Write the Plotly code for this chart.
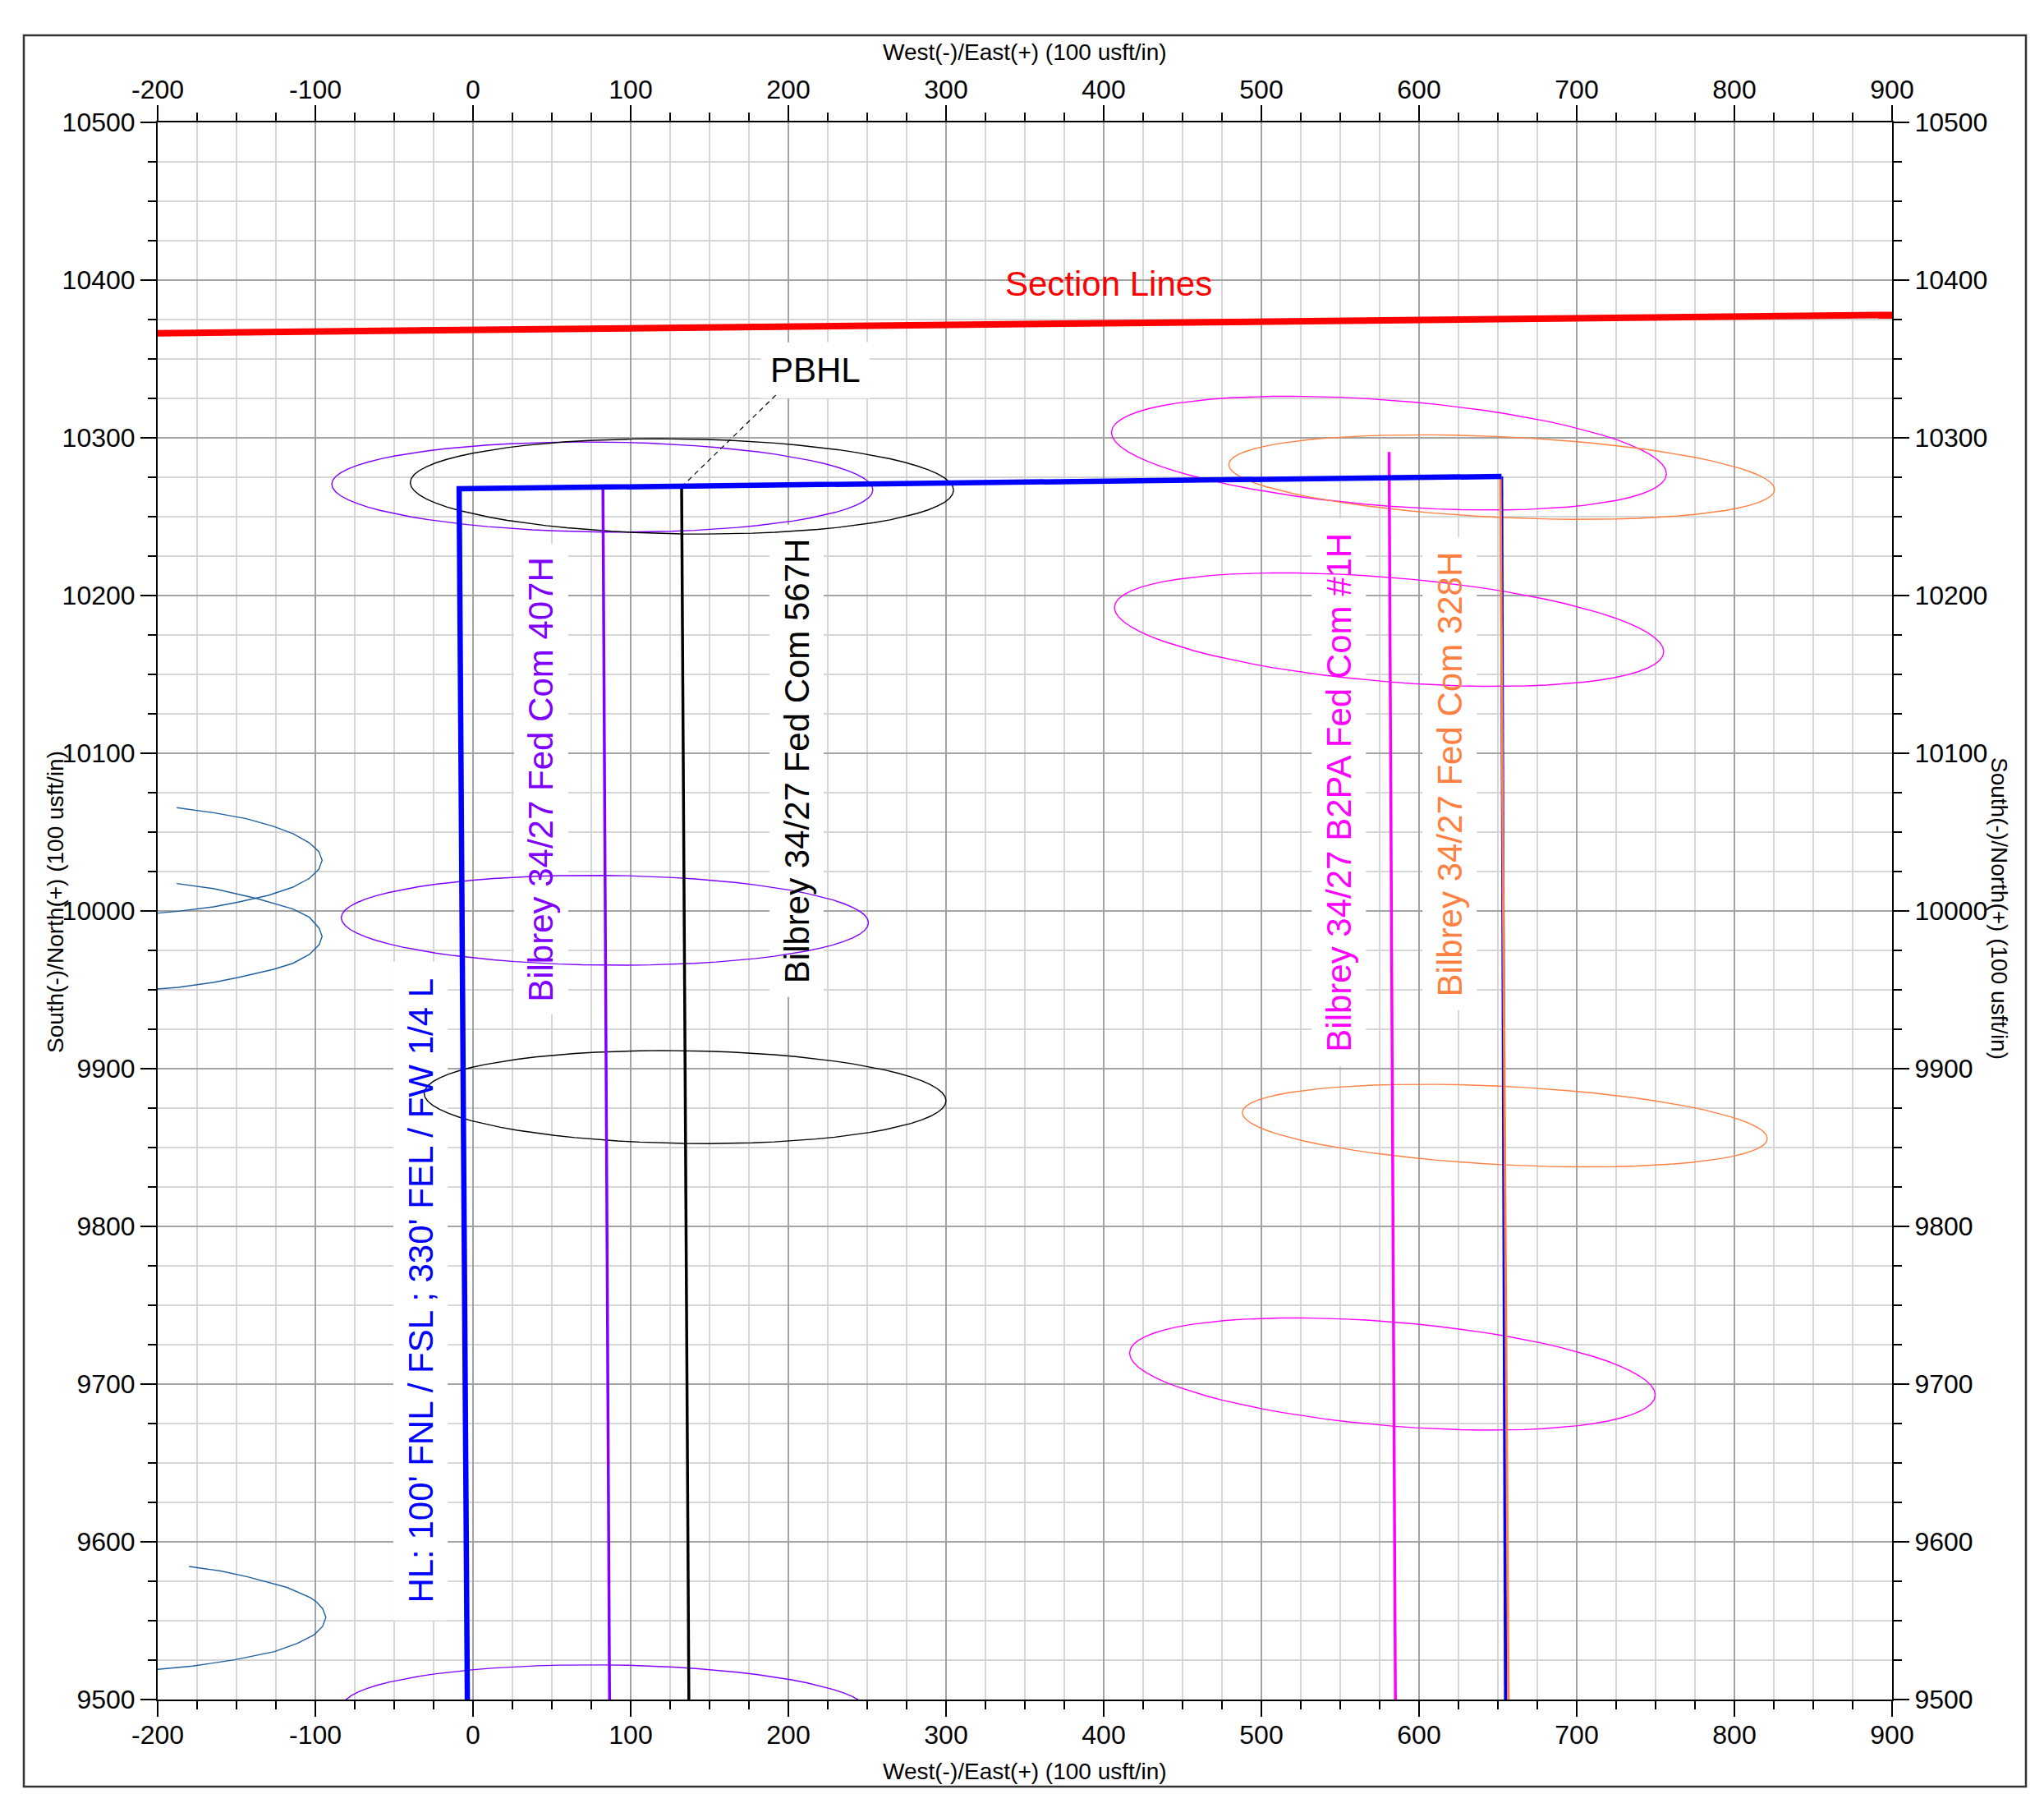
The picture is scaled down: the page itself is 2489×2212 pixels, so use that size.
import numpy as np
import plotly.graph_objects as go

FONT = "Liberation Sans, Arial, Helvetica, sans-serif"

# ---------------- data ----------------
x_range = [-200, 900]
y_range = [9500, 10500]
x_tick_vals = list(range(-200, 901, 100))
y_tick_vals = list(range(9500, 10501, 100))
x_tick_text = [str(v) for v in x_tick_vals]
y_tick_text = [str(v) for v in y_tick_vals]

# Section line
section_x = [-200, 900]
section_y = [10366.3, 10377.9]

# Subject well (blue): lateral (thick) and return leg (thin)
hl_main_x = [-3.6, -8.8, 652.3]
hl_main_y = [9500, 10267.7, 10275.5]
hl_leg_x = [652.3, 654.9]
hl_leg_y = [10275.5, 9500]

# Offset wells
w407_x = [82.4, 86.6]
w407_y = [10268.9, 9500]
w567_x = [132.3, 136.9]
w567_y = [10268.9, 9500]
w1h_x = [581.0, 585.0]
w1h_y = [10291.0, 9500]
w328_x = [651.6, 656.7]
w328_y = [10275.5, 9500]

# PBHL leader line
pbhl_x = [132.3, 192.5]
pbhl_y = [10268.9, 10327.5]

# Uncertainty ellipses: centre x, centre y, half-width, half-height, y-offset of right tip
e407_cx = [82.0, 83.6, 84.0]
e407_cy = [10268.8, 9994.1, 9493.5]
e407_a = [171.6, 167.2, 167.0]
e407_h = [28.6, 28.5, 28.5]
e407_c = [-1.8, -1.6, -1.6]

e567_cx = [132.5, 134.5]
e567_cy = [10269.2, 9882.0]
e567_a = [172.3, 165.5]
e567_h = [30.2, 29.5]
e567_c = [-2.4, -2.3]

e1h_cx = [580.9, 581.0, 583.1]
e1h_cy = [10290.3, 10178.4, 9706.4]
e1h_a = [176.0, 174.2, 166.7]
e1h_h = [36.1, 36.0, 35.6]
e1h_c = [-13.1, -14.0, -13.3]

e328_cx = [652.4, 654.4]
e328_cy = [10275.1, 9863.9]
e328_a = [173.1, 166.5]
e328_h = [26.8, 26.2]
e328_c = [-7.9, -8.2]

# Partial ellipses of the far-west offset well (dark blue)
arc1_x = [-187.9, -164.6, -143.8, -126.4, -114.2, -103.8, -97.8, -95.7,
          -97.8, -103.8, -114.2, -129.8, -149.0, -164.6, -187.1, -200.2]
arc1_y = [10065.5, 10062.3, 10058.5, 10053.6, 10049.0, 10043.2, 10037.7, 10032.1,
          10026.4, 10020.7, 10015.1, 10009.9, 10005.6, 10002.6, 9999.8, 9998.6]
arc2_x = [-187.9, -164.6, -136.8, -114.2, -103.8, -97.6, -95.7, -97.6,
          -103.8, -114.2, -126.4, -149.0, -164.6, -187.1, -200.2]
arc2_y = [10017.4, 10014.2, 10007.8, 10001.2, 9996.0, 9989.1, 9983.9, 9978.6,
          9972.4, 9966.8, 9963.0, 9957.8, 9954.7, 9951.6, 9950.5]
arc3_x = [-180.1, -160.0, -142.9, -118.0, -103.0, -99.4, -95.4, -93.3,
          -95.4, -100.7, -111.4, -125.9, -151.2, -177.8, -200.1]
arc3_y = [9584.4, 9581.5, 9577.8, 9571.1, 9564.5, 9562.0, 9557.7, 9552.1,
          9546.4, 9541.1, 9535.6, 9530.4, 9525.2, 9521.2, 9519.1]

# Labels
label_text = ["Bilbrey 34/27 Fed Com 407H", "Bilbrey 34/27 Fed Com 567H",
              "Bilbrey 34/27 B2PA Fed Com #1H", "Bilbrey 34/27 Fed Com 328H",
              "HL: 100' FNL / FSL ; 330' FEL / FW 1/4 L"]
label_x = [43.2, 205.2, 549.1, 619.4, -33.3]
label_y = [10083.4, 10095.2, 10075.3, 10086.9, 9759.1]

# ---------------- styling ----------------
C_BLUE = "#0000FF"
C_PURPLE = "#8000FF"
C_BLACK = "#000000"
C_MAGENTA = "#FF00FF"
C_ORANGE = "#FF8040"
C_RED = "#FF0000"
C_DKBLUE = "#1F5F9F"
label_colors = [C_PURPLE, C_BLACK, C_MAGENTA, C_ORANGE, C_BLUE]
label_len_px = [548, 551, 643, 551, 778]

# page body has an 8px default margin: figure is shrunk by that amount
W, H = 2481, 2204
PL, PT, PR, PB = 184, 141, 185, 143
PW, PH = W - PL - PR, H - PT - PB


def px_to_paper_x(px):
    return (px - 8 - PL) / PW


def px_to_paper_y(py):
    return (H - PB - (py - 8)) / PH


fig = go.Figure()


def line(x, y, color, width, dash=None):
    fig.add_trace(go.Scatter(x=x, y=y, mode="lines", showlegend=False, hoverinfo="skip",
                             line=dict(color=color, width=width, dash=dash)))


def ellipses(cx, cy, a, h, c, color, width=1.4):
    t = np.linspace(0, 2 * np.pi, 73)
    for i in range(len(cx)):
        b = np.sqrt(h[i] ** 2 - c[i] ** 2)
        ex = cx[i] + a[i] * np.cos(t)
        ey = cy[i] + b * np.sin(t) + c[i] * np.cos(t)
        line(ex, ey, color, width)


ellipses(e407_cx, e407_cy, e407_a, e407_h, e407_c, C_PURPLE)
ellipses(e567_cx, e567_cy, e567_a, e567_h, e567_c, C_BLACK)
ellipses(e1h_cx, e1h_cy, e1h_a, e1h_h, e1h_c, C_MAGENTA)
ellipses(e328_cx, e328_cy, e328_a, e328_h, e328_c, C_ORANGE)
for ax_, ay_ in [(arc1_x, arc1_y), (arc2_x, arc2_y), (arc3_x, arc3_y)]:
    line(ax_, ay_, C_DKBLUE, 1.4)

line(section_x, section_y, C_RED, 8)
line(pbhl_x, pbhl_y, C_BLACK, 1.2, dash="6px,5px")
line(w407_x, w407_y, C_PURPLE, 3.5)
line(w567_x, w567_y, C_BLACK, 3.5)
line(w1h_x, w1h_y, C_MAGENTA, 3.5)
line(hl_leg_x, hl_leg_y, C_BLUE, 4)
line(w328_x, w328_y, C_ORANGE, 3)
line(hl_main_x, hl_main_y, C_BLUE, 6.5)

# dummy trace for the top/right axes
fig.add_trace(go.Scatter(x=x_range, y=y_range, xaxis="x2", yaxis="y2", mode="markers",
                         marker=dict(opacity=0), showlegend=False, hoverinfo="skip"))

annotations = []
shapes = []
for txt, x, y, col, L in zip(label_text, label_x, label_y, label_colors, label_len_px):
    annotations.append(dict(x=x, y=y, xref="x", yref="y", text=txt, showarrow=False,
                            textangle=-90, font=dict(family=FONT, size=42, color=col),
                            xanchor="center", yanchor="middle"))
    shapes.append(dict(type="rect", xref="x", yref="y", xsizemode="pixel", ysizemode="pixel",
                       xanchor=x, yanchor=y, x0=-33, x1=33, y0=-(L / 2 + 12), y1=L / 2 + 12,
                       fillcolor="white", line=dict(width=0), layer="between"))

annotations.append(dict(x=217.1, y=10342.8, xref="x", yref="y", text="PBHL", showarrow=False,
                        font=dict(family=FONT, size=42, color="black"),
                        xanchor="center", yanchor="middle"))
shapes.append(dict(type="rect", xref="x", yref="y", xsizemode="pixel", ysizemode="pixel",
                   xanchor=217.1, yanchor=10342.8, x0=-66, x1=66, y0=-34, y1=34,
                   fillcolor="white", line=dict(width=0), layer="between"))
annotations.append(dict(x=403.3, y=10397.5, xref="x", yref="y", text="Section Lines",
                        showarrow=False, font=dict(family=FONT, size=42, color=C_RED),
                        xanchor="center", yanchor="middle"))

title_font = dict(family=FONT, size=28, color="black")
annotations += [
    dict(x=0.5, y=px_to_paper_y(63), xref="paper", yref="paper",
         text="West(-)/East(+) (100 usft/in)",
         showarrow=False, font=title_font, xanchor="center", yanchor="middle"),
    dict(x=0.5, y=px_to_paper_y(2156), xref="paper", yref="paper",
         text="West(-)/East(+) (100 usft/in)",
         showarrow=False, font=title_font, xanchor="center", yanchor="middle"),
    dict(x=px_to_paper_x(67), y=px_to_paper_y(1098), xref="paper", yref="paper",
         text="South(-)/North(+) (100 usft/in)", textangle=-90,
         showarrow=False, font=title_font, xanchor="center", yanchor="middle"),
    dict(x=px_to_paper_x(2435), y=px_to_paper_y(1106), xref="paper", yref="paper",
         text="South(-)/North(+) (100 usft/in)", textangle=90,
         showarrow=False, font=title_font, xanchor="center", yanchor="middle"),
]

# outer frame
shapes.append(dict(type="rect", xref="paper", yref="paper",
                   x0=px_to_paper_x(29), x1=px_to_paper_x(2467),
                   y0=px_to_paper_y(2175), y1=px_to_paper_y(43),
                   line=dict(color="#333333", width=2.5), fillcolor="rgba(0,0,0,0)", layer="below"))

tickfont = dict(family=FONT, size=32, color="black")
common = dict(showline=True, linecolor="black", linewidth=2, ticks="outside", ticklen=19,
              tickwidth=1.5, tickcolor="black", tickfont=tickfont, zeroline=False,
              autorange=False, mirror=False, fixedrange=True)
minor_grid = dict(dtick=25, showgrid=True, gridcolor="#D6D6D6", gridwidth=1.5,
                  ticks="outside", ticklen=10, tickcolor="black", tickwidth=1.5)
minor_nogrid = dict(dtick=25, showgrid=False, ticks="outside", ticklen=10,
                    tickcolor="black", tickwidth=1.5)

fig.update_layout(
    width=W, height=H,
    margin=dict(l=PL, r=PR, t=PT, b=PB, autoexpand=False),
    paper_bgcolor="white", plot_bgcolor="white",
    xaxis=dict(range=x_range, side="bottom", showgrid=True, gridcolor="#A3A3A3", gridwidth=1.5,
               minor=minor_grid, tickvals=x_tick_vals, ticktext=x_tick_text,
               ticklabelstandoff=-5, **common),
    yaxis=dict(range=y_range, side="left", showgrid=True, gridcolor="#A3A3A3", gridwidth=1.5,
               minor=minor_grid, tickvals=y_tick_vals, ticktext=y_tick_text, **common),
    xaxis2=dict(range=x_range, side="top", overlaying="x", anchor="y", showgrid=False,
                minor=minor_nogrid, tickvals=x_tick_vals, ticktext=x_tick_text,
                ticklabelstandoff=-5, **common),
    yaxis2=dict(range=y_range, side="right", overlaying="y", anchor="x", showgrid=False,
                minor=minor_nogrid, tickvals=y_tick_vals, ticktext=y_tick_text, **common),
    annotations=annotations,
    shapes=shapes,
    showlegend=False,
)

fig.write_html("out.html")
